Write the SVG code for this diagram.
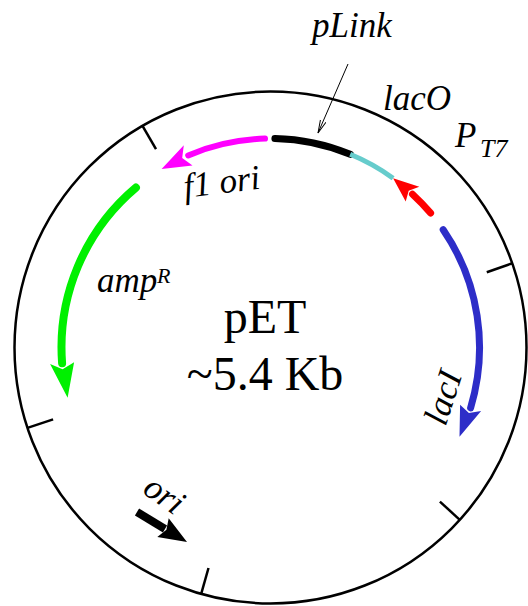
<svg xmlns="http://www.w3.org/2000/svg" width="528" height="606" viewBox="0 0 528 606">
<style>
.lbl{font-family:"Liberation Serif","Times New Roman",serif;font-style:italic;font-size:35px;fill:#000}
.big{font-family:"Liberation Serif","Times New Roman",serif;font-size:48px;fill:#000;text-anchor:middle}
.tick{stroke:#000;stroke-width:2.5;fill:none}
.arc{fill:none;stroke-linecap:round}
</style>
<defs>
<marker id="lead" markerWidth="14" markerHeight="8" refX="13" refY="4" orient="auto" markerUnits="userSpaceOnUse">
<path d="M0,1 L13,4 L0,7" fill="none" stroke="#000" stroke-width="1"/>
</marker>
</defs>
<rect width="528" height="606" fill="#fff"/>
<g id="backbone">
<circle cx="270.5" cy="347.5" r="256" fill="none" stroke="#000" stroke-width="2.5"/>
<line class="tick" x1="142.5" y1="125.8" x2="156.0" y2="149.2"/>
<line class="tick" x1="512.3" y1="263.3" x2="486.8" y2="272.2"/>
<line class="tick" x1="459.8" y1="519.8" x2="439.9" y2="501.6"/>
<line class="tick" x1="201.2" y1="593.9" x2="208.5" y2="568.0"/>
<line class="tick" x1="27.5" y1="427.9" x2="53.1" y2="419.4"/>
</g>
<g id="pLink">
<path class="arc" d="M274.9,138.5 A209,209 0 0 1 350.2,154.3" stroke="#000" stroke-width="7"/>
<text class="lbl" x="312" y="37">pLink</text>
</g>
<g id="lacO">
<path d="M350.2,154.3 A209,209 0 0 1 393.1,178.2" fill="none" stroke="#66cccc" stroke-width="5"/>
<text class="lbl" x="383" y="110">lacO</text>
</g>
<g id="PT7">
<path class="arc" d="M430.6,213.1 A209,209 0 0 0 412.5,194.2" stroke="#ff0000" stroke-width="7"/>
<polygon points="393.1,178.2 405.7,201.5 408.7,190.7 419.3,186.8" fill="#ff0000"/>
<text class="lbl" x="455" y="147">P<tspan x="480" y="157" font-size="26">T7</tspan></text>
</g>
<g id="lacI">
<path class="arc" d="M443.2,229.7 A209,209 0 0 1 470.6,407.9" stroke="#2d2dc8" stroke-width="7"/>
<polygon points="459.5,436.8 460.1,404.7 468.9,413.1 481.1,411.1" fill="#2d2dc8"/>
<text class="lbl" x="454" y="401" text-anchor="middle" transform="rotate(-72 454 401)">lacI</text>
</g>
<g id="f1ori">
<path class="arc" d="M265.0,138.6 A209,209 0 0 0 188.2,155.4" stroke="#ff00ff" stroke-width="6"/>
<polygon points="161.6,169.1 192.5,165.5 182.2,158.1 183.8,145.3" fill="#ff00ff"/>
<text class="lbl" x="185" y="198" transform="rotate(-7 185 198)">f1 ori</text>
</g>
<g id="ampR">
<path class="arc" d="M135.9,187.6 A209,209 0 0 0 62.1,363.2" stroke="#00f000" stroke-width="8"/>
<polygon points="67.6,397.7 74.1,362.3 62.6,369.3 50.1,364.1" fill="#00f000"/>
<text class="lbl" x="97" y="292">amp<tspan x="157" y="283" font-size="22">R</tspan></text>
</g>
<g id="ori">
<line x1="137" y1="512" x2="165" y2="529" stroke="#000" stroke-width="8"/>
<polygon points="187,542 157.3,537.0 166.4,529.7 168.7,518.2" fill="#000"/>
<text class="lbl" x="158" y="504" text-anchor="middle" transform="rotate(35 158 504)">ori</text>
</g>
<g id="title">
<text class="big" x="265" y="333">pET</text>
<text class="big" x="265" y="390">~5.4 Kb</text>
</g>
<g id="connectors">
<line x1="348" y1="64" x2="318" y2="133" stroke="#000" stroke-width="1" marker-end="url(#lead)"/>
</g>
</svg>
